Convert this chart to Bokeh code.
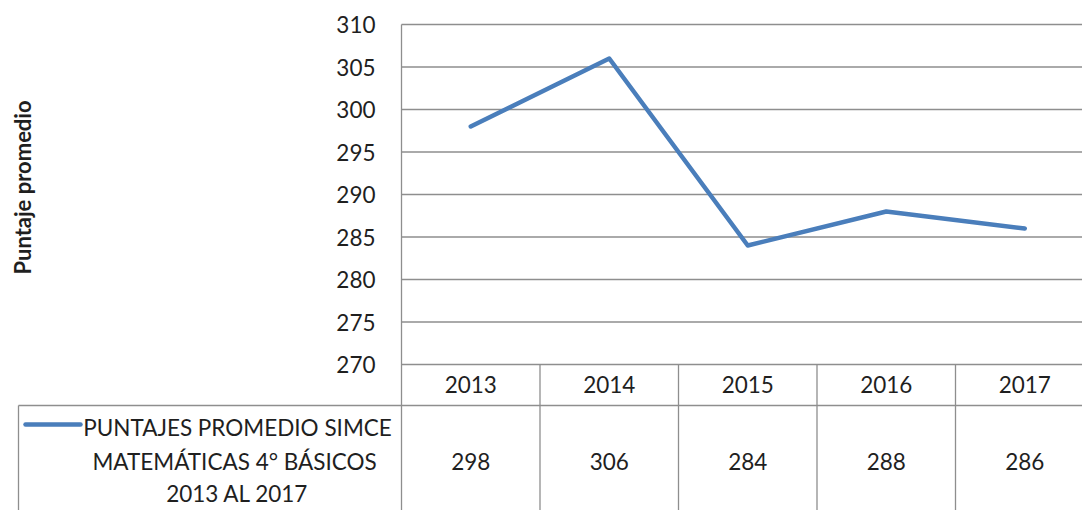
import math
from bokeh.plotting import figure
from bokeh.models import Range1d
from bokeh.embed import file_html
from bokeh.resources import INLINE
from bokeh.core.properties import value

# ---- data ----
years = ["2013", "2014", "2015", "2016", "2017"]
scores = [298, 306, 284, 288, 286]
y_ticks = [270, 275, 280, 285, 290, 295, 300, 305, 310]
series_label = ["PUNTAJES PROMEDIO SIMCE", "MATEMÁTICAS  4° BÁSICOS", "2013 AL 2017"]
y_title = "Puntaje promedio"

FONT = "Lato"
FS = "22.5px"
TXT = "#1f1f1f"
GRID = "#8e8e8e"
BLUE = "#4a7ebb"

# ---- geometry (picture pixels) ----
W, H = 1082, 510
PAGE_X0, PAGE_Y0 = 0, 0
PLOT_L, PLOT_T, PLOT_B = 401, 24, 364   # chart frame
COLW = 138.5
n = len(years)
pxu = (PLOT_B - PLOT_T) / (y_ticks[-1] - y_ticks[0])

x_start = (PAGE_X0 - PLOT_L) / COLW
x_end = (PAGE_X0 + W - PLOT_L) / COLW
y_end = y_ticks[-1] + (PLOT_T - PAGE_Y0) / pxu
y_start = y_ticks[0] - (PAGE_Y0 + H - PLOT_B) / pxu

p = figure(width=W, height=H, output_backend="svg", toolbar_location=None,
           x_range=Range1d(x_start, x_end), y_range=Range1d(y_start, y_end),
           min_border=0, min_border_left=0, min_border_right=0,
           min_border_top=0, min_border_bottom=0,
           x_axis_location=None, y_axis_location=None)
p.outline_line_color = None
p.grid.visible = False
# pixel helper ranges for the data-table / title
p.extra_x_ranges = {"pg": Range1d(PAGE_X0, PAGE_X0 + W)}
p.extra_y_ranges = {"pg": Range1d(PAGE_Y0 + H, PAGE_Y0)}

xs = [i + 0.5 for i in range(n)]

# horizontal gridlines at the value ticks
p.segment(x0=[0] * len(y_ticks), x1=[x_end] * len(y_ticks), y0=y_ticks, y1=y_ticks,
          line_color=GRID, line_width=1.3)
# vertical axis line (continues down through the table)
p.segment(x0=[0], x1=[0], y0=[y_ticks[-1]], y1=[y_start], line_color=GRID, line_width=1.3)
# tick labels
p.text(x=[0] * len(y_ticks), y=y_ticks, text=[str(t) for t in y_ticks], x_offset=-26,
       text_font=value(FONT), text_font_size=FS, text_color=TXT,
       text_align="right", text_baseline="middle")
# axis title
p.text(x=[22], y=[187], text=[y_title], angle=math.pi / 2, x_range_name="pg", y_range_name="pg",
       text_font=value(FONT), text_font_size="22px", text_font_style="bold", text_color=TXT,
       text_align="center", text_baseline="middle")

# data line
p.line(xs, scores, line_color=BLUE, line_width=4.5, line_cap="round", line_join="round")

# ---- data table ----
vx = [float(i) for i in range(1, n)]
p.segment(x0=vx, x1=vx, y0=[y_ticks[0]] * len(vx), y1=[y_start] * len(vx),
          line_color=GRID, line_width=1.3)
p.segment(x0=[18], x1=[PLOT_L], y0=[405], y1=[405], x_range_name="pg", y_range_name="pg",
          line_color=GRID, line_width=1.3)
p.segment(x0=[0], x1=[x_end], y0=[405], y1=[405], y_range_name="pg",
          line_color=GRID, line_width=1.3)
p.segment(x0=[18], x1=[18], y0=[405], y1=[PAGE_Y0 + H], x_range_name="pg", y_range_name="pg",
          line_color=GRID, line_width=1.3)

p.text(x=xs, y=[384] * n, text=years, y_range_name="pg",
       text_font=value(FONT), text_font_size=FS, text_color=TXT,
       text_align="center", text_baseline="middle")
p.text(x=xs, y=[461] * n, text=[str(s) for s in scores], y_range_name="pg",
       text_font=value(FONT), text_font_size=FS, text_color=TXT,
       text_align="center", text_baseline="middle")

# legend key + series name
p.segment(x0=[25], x1=[80], y0=[424], y1=[424], x_range_name="pg", y_range_name="pg",
          line_color=BLUE, line_width=4.5, line_cap="round")
p.text(x=[237] * 3, y=[427, 461, 493], text=series_label, x_range_name="pg", y_range_name="pg",
       text_font=value(FONT), text_font_size=FS, text_color=TXT,
       text_align="center", text_baseline="middle")

open("out.html", "w").write(file_html(p, INLINE))
